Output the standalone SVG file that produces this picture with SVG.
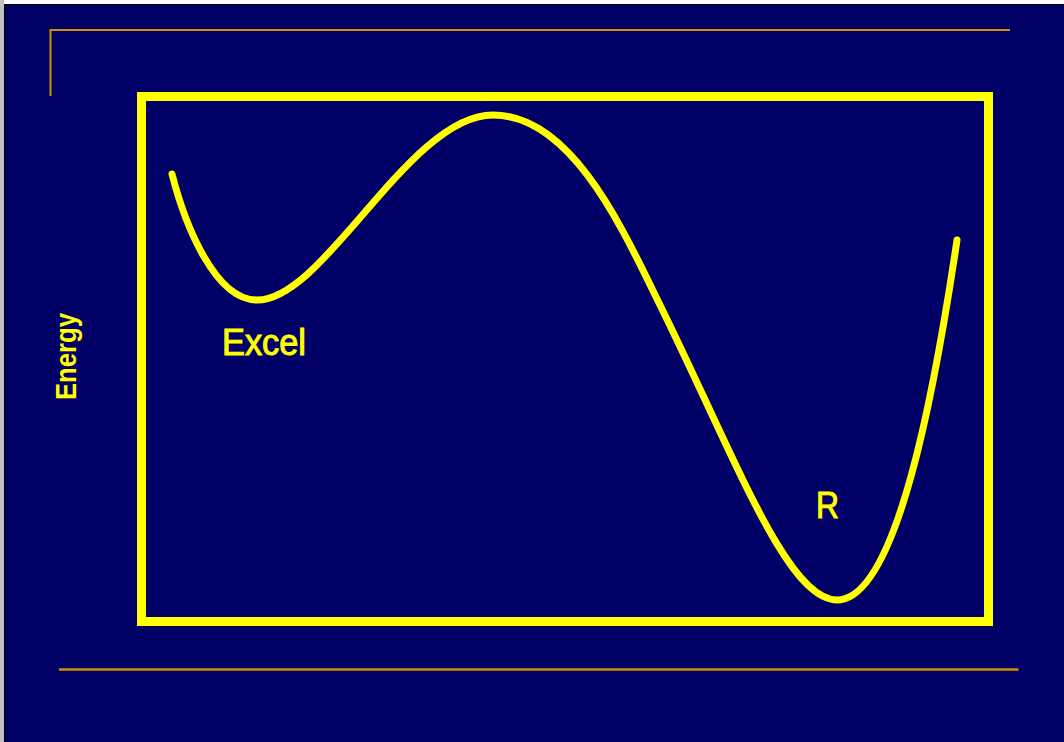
<svg xmlns="http://www.w3.org/2000/svg" width="1064" height="742" viewBox="0 0 1064 742">
<style>
.gold{stroke:#CC9000;fill:none}
.frame{stroke:#FFFF00;stroke-width:9;fill:none}
.curve{stroke:#FFFF00;stroke-width:7;fill:none;stroke-linecap:round;stroke-linejoin:round}
.lbl{fill:#FFFF00;font-family:"Liberation Sans",Arial,sans-serif}
.thick{stroke:#FFFF00;stroke-width:1}
</style>
<rect x="0" y="0" width="1064" height="742" fill="#000066"/>
<rect x="0" y="0" width="1064" height="4" fill="#FFFFFF"/>
<rect x="0" y="0" width="4" height="742" fill="#C0C0C0"/>
<rect x="4" y="4" width="1060" height="1" fill="#000000"/>
<rect x="4" y="4" width="1" height="738" fill="#000000"/>
<g id="decor">
<path class="gold" stroke-width="2" d="M50.5,96 V30 H1010"/>
<line class="gold" stroke-width="2.5" x1="59" y1="669.5" x2="1018.5" y2="669.5"/>
</g>
<g id="plot-frame">
<rect class="frame" x="141.5" y="96.5" width="847" height="525"/>
</g>
<g id="connectors">
<path class="curve" d="M172,174 C185,225 215,300 257,300 C325,300 409,115 493,115 C573,115 624.6,233.2 660,305 C735.1,457.5 787,600 837,600 C897,600 935,388.4 957,240"/>
</g>
<g id="axis-label">
<text class="lbl" font-weight="bold" font-size="30" text-anchor="middle" textLength="87" lengthAdjust="spacingAndGlyphs" transform="translate(75.5,356.5) rotate(-90)">Energy</text>
</g>
<g id="node-excel">
<text class="lbl thick" x="222" y="355" font-size="36" textLength="84" lengthAdjust="spacingAndGlyphs">Excel</text>
</g>
<g id="node-r">
<text class="lbl thick" x="816" y="518" font-size="36" textLength="23" lengthAdjust="spacingAndGlyphs">R</text>
</g>
</svg>
